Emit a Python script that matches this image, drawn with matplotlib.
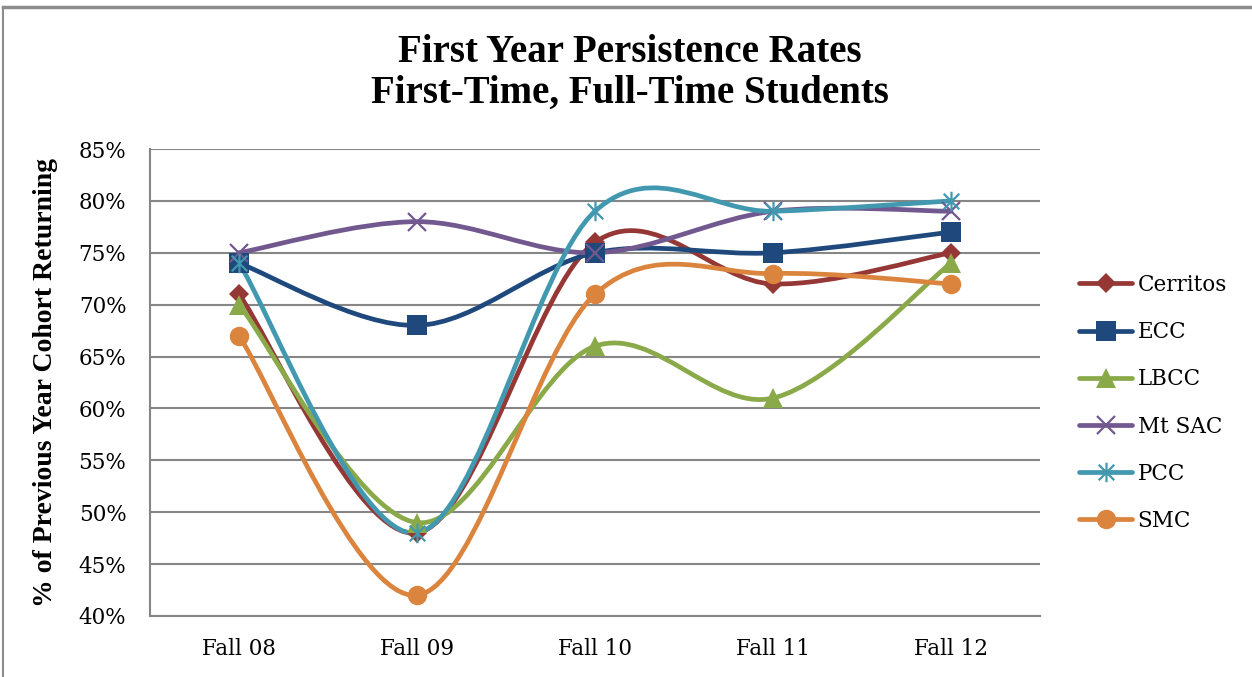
import numpy as np
import matplotlib
matplotlib.use("Agg")
import matplotlib.pyplot as plt
from matplotlib.path import Path
from matplotlib.patches import PathPatch
from matplotlib.lines import Line2D

# data
terms = ["Fall 08", "Fall 09", "Fall 10", "Fall 11", "Fall 12"]
cerritos = [71, 48, 76, 72, 75]
ecc = [74, 68, 75, 75, 77]
lbcc = [70, 49, 66, 61, 74]
mtsac = [75, 78, 75, 79, 79]
pcc = [74, 48, 79, 79, 80]
smc = [67, 42, 71, 73, 72]

names = ["Cerritos", "ECC", "LBCC", "Mt SAC", "PCC", "SMC"]
series = [cerritos, ecc, lbcc, mtsac, pcc, smc]
colors = ["#953735", "#1F497D", "#8AAA4A", "#71588F", "#4198AF", "#DB843D"]

# asterisk marker like excel's "star": x plus a vertical bar
star = Path([(-1, -1), (1, 1), (-1, 1), (1, -1), (0, -1.25), (0, 1.25)],
            [Path.MOVETO, Path.LINETO, Path.MOVETO, Path.LINETO, Path.MOVETO, Path.LINETO])
markers = [
    dict(marker="D", ms=10, mew=0),
    dict(marker="s", ms=14, mew=0),
    dict(marker="^", ms=14, mew=0),
    dict(marker="x", ms=13, mew=1.6),
    dict(marker=star, ms=14, mew=1.6),
    dict(marker="o", ms=14, mew=0),
]


def smooth_path(x, y):
    # excel-style smoothed line: cubic bezier with catmull-rom control points
    pts = np.column_stack([x, y]).astype(float)
    n = len(pts)
    verts = [pts[0]]
    codes = [Path.MOVETO]
    for i in range(n - 1):
        p0 = pts[max(i - 1, 0)]
        p1 = pts[i]
        p2 = pts[i + 1]
        p3 = pts[min(i + 2, n - 1)]
        verts += [p1 + (p2 - p0) / 6, p2 - (p3 - p1) / 6, p2]
        codes += [Path.CURVE4] * 3
    return Path(verts, codes)


plt.rcParams["font.family"] = "DejaVu Serif"
fig = plt.figure(figsize=(12.52, 6.77), dpi=100)
ax = fig.add_axes([150 / 1252, 61 / 677, 890 / 1252, 467 / 677])

x = np.arange(len(terms))
for name, vals, c, mk in zip(names, series, colors, markers):
    ax.add_patch(PathPatch(smooth_path(x, vals), fill=False, edgecolor=c,
                           lw=3.4, capstyle="round", joinstyle="round", zorder=2))
    ax.plot(x, vals, linestyle="none", marker=mk["marker"], ms=mk["ms"],
            mew=mk["mew"], color=c, mec=c, zorder=3)

ax.set_xlim(-0.5, len(terms) - 0.5)
ax.set_ylim(40, 85)
ax.set_yticks(np.arange(40, 86, 5))
ax.set_yticklabels([f"{v}%" for v in range(40, 86, 5)])
ax.set_xticks(x)
ax.set_xticklabels(terms)
ax.tick_params(axis="both", length=0, labelsize=15.5)
ax.tick_params(axis="y", pad=17)
ax.tick_params(axis="x", pad=16)
ax.grid(axis="y", color="#868686", lw=1.5)
ax.set_axisbelow(True)
for s in ["top", "right"]:
    ax.spines[s].set_visible(False)
ax.spines["left"].set_color("#868686")
ax.spines["left"].set_linewidth(1.5)
ax.spines["bottom"].set_color("#868686")
ax.spines["bottom"].set_linewidth(1.5)

ax.set_ylabel("% of Previous Year Cohort Returning", fontsize=20,
              fontweight="bold", family="Liberation Serif", labelpad=15)
fig.text(0.503, 1 - 73 / 677, "First Year Persistence Rates\nFirst-Time, Full-Time Students",
         ha="center", va="center", fontsize=28, fontweight="bold",
         family="Liberation Serif", linespacing=1.15)

handles = [Line2D([], [], color=c, lw=3.4, marker=mk["marker"], ms=mk["ms"],
                  mew=mk["mew"], mec=c, solid_capstyle="round")
           for c, mk in zip(colors, markers)]
fig.legend(handles, names, loc="center left", bbox_to_anchor=(1060 / 1252, 1 - 403 / 677),
           frameon=False, fontsize=15.5, handlelength=2.45, handletextpad=0.25,
           labelspacing=1.17)

# outer chart border (top and left edges visible in the crop)
fig.add_artist(Line2D([3 / 1252, 3 / 1252], [0, 670 / 677], color="#8c8c8c",
                      lw=1.5, transform=fig.transFigure))
fig.add_artist(Line2D([3 / 1252, 1], [670 / 677, 670 / 677], color="#8c8c8c",
                      lw=2.5, transform=fig.transFigure))

fig.savefig("out.png", dpi=100)
